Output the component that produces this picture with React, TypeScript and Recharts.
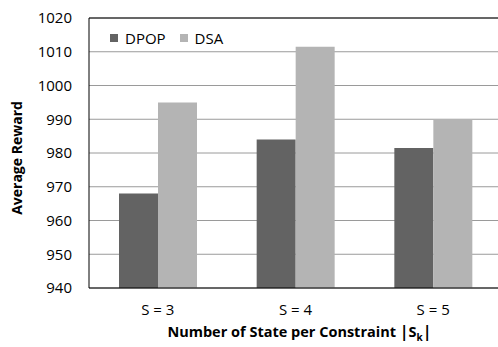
import React from "react";
import { BarChart, Bar, XAxis, YAxis, CartesianGrid, ReferenceLine } from "recharts";

const categories = ["S = 3", "S = 4", "S = 5"];
const dpop = [968, 984, 981.5];
const dsa = [995, 1011.5, 990];
const yTicks = [940, 950, 960, 970, 980, 990, 1000, 1010, 1020];

const data = categories.map((c, i) => ({ name: c, DPOP: dpop[i], DSA: dsa[i] }));

const FONT = "'Open Sans', 'Liberation Sans', sans-serif";
const C_DPOP = "#636363";
const C_DSA = "#b4b4b4";

const LegendBox = () => (
  <div
    style={{
      position: "absolute",
      left: 110,
      top: 28,
      display: "flex",
      alignItems: "center",
      fontFamily: FONT,
      fontSize: 15,
      color: "#000",
      lineHeight: "20px",
    }}
  >
    <span style={{ width: 8, height: 8, background: C_DPOP, display: "inline-block", marginRight: 7 }} />
    <span style={{ marginRight: 14 }}>DPOP</span>
    <span style={{ width: 8, height: 8, background: C_DSA, display: "inline-block", marginRight: 7 }} />
    <span>DSA</span>
  </div>
);

const XTitle = (props: any) => {
  const { viewBox } = props;
  const cx = viewBox.x + viewBox.width / 2 + 4;
  return (
    <text x={cx} y={337} textAnchor="middle" fontFamily={FONT} fontSize={14.5} fontWeight="bold" fill="#000">
      <tspan>Number of State per Constraint </tspan>
      <tspan fontSize={16}>|</tspan>
      <tspan>S</tspan>
      <tspan fontSize={10} dy={4}>k</tspan>
      <tspan fontSize={16} dy={-4}>|</tspan>
    </text>
  );
};

const YTitle = () => (
  <text x={22} y={158} transform="rotate(-90 22 158)" textAnchor="middle" fontFamily={FONT} fontSize={14} fontWeight="bold" fill="#000">
    Average Reward
  </text>
);

export default function App() {
  return (
    <div style={{ position: "absolute", left: 0, top: 0, width: 498, height: 347, overflow: "hidden", background: "#fff" }}>
      <BarChart
        width={515}
        height={347}
        data={data}
        margin={{ top: 18, right: 13, bottom: 29, left: 0 }}
        barGap={0}
        barSize={39}
      >
        <CartesianGrid vertical={false} stroke="#9a9a9a" />
        <XAxis
          dataKey="name"
          height={30}
          tickLine={false}
          tickSize={0}
          tickMargin={16}
          axisLine={{ stroke: "#000" }}
          tick={{ fontFamily: FONT, fontSize: 15, fill: "#000" }}
          label={<XTitle />}
        />
        <YAxis
          domain={[940, 1020]}
          ticks={yTicks}
          width={89}
          tickLine={false}
          tickSize={0}
          tickMargin={17}
          axisLine={{ stroke: "#000" }}
          tick={{ fontFamily: FONT, fontSize: 15, fill: "#000" }}
          label={<YTitle />}
        />
        <ReferenceLine y={1020} stroke="#000" />
        <Bar dataKey="DPOP" fill={C_DPOP} isAnimationActive={false} />
        <Bar dataKey="DSA" fill={C_DSA} isAnimationActive={false} />
      </BarChart>
      <LegendBox />
    </div>
  );
}
